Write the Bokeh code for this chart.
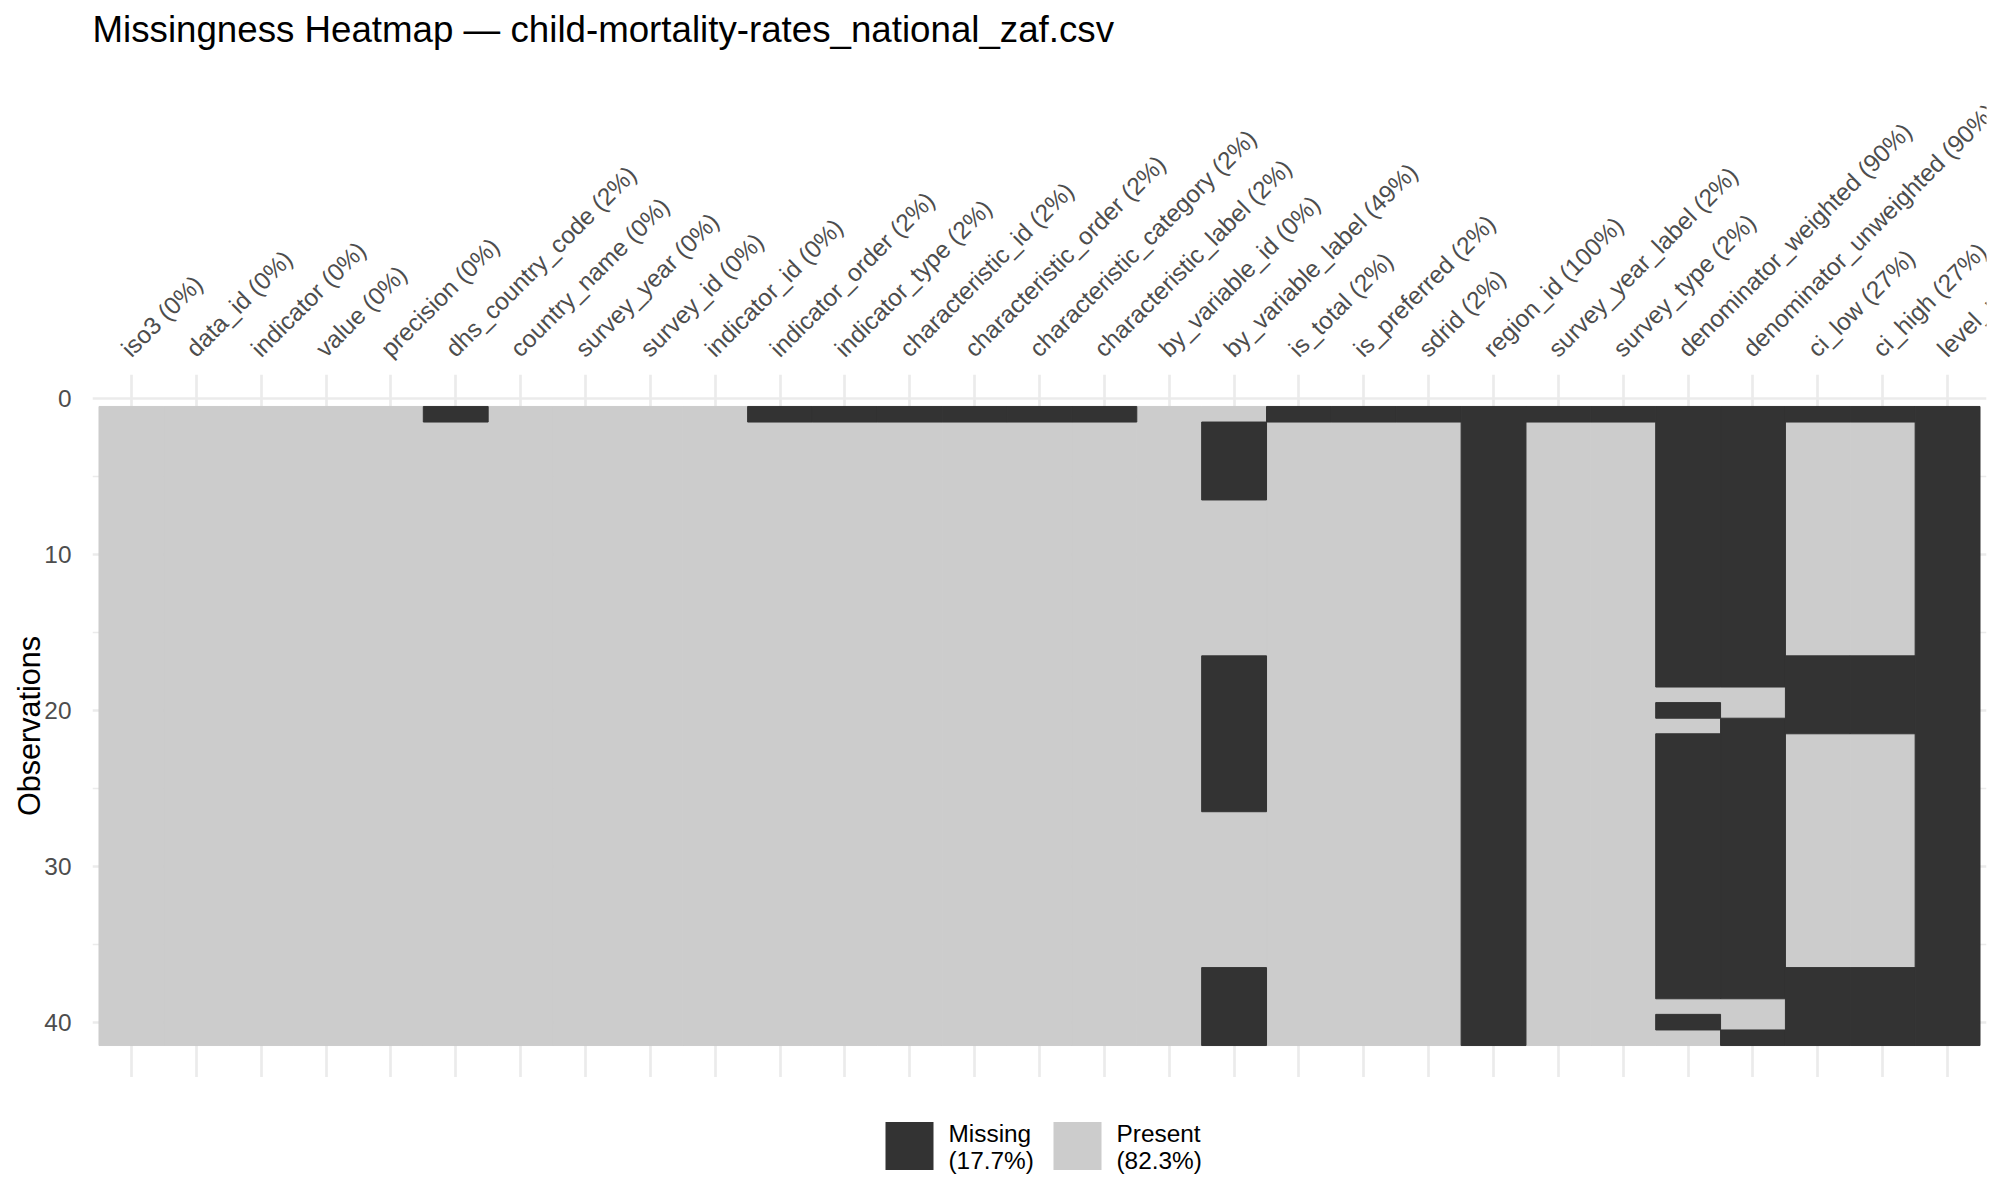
import numpy as np
from bokeh.plotting import figure
from bokeh.models import Range1d, FixedTicker, ColumnDataSource
from bokeh.layouts import column
from bokeh.embed import file_html
from bokeh.resources import INLINE
from bokeh.core.properties import value

TITLE = "Missingness Heatmap \u2014 child-mortality-rates_national_zaf.csv"
n_obs = 41
variables = [
    "iso3", "data_id", "indicator", "value", "precision", "dhs_country_code",
    "country_name", "survey_year", "survey_id", "indicator_id", "indicator_order",
    "indicator_type", "characteristic_id", "characteristic_order",
    "characteristic_category", "characteristic_label", "by_variable_id",
    "by_variable_label", "is_total", "is_preferred", "sdrid", "region_id",
    "survey_year_label", "survey_type", "denominator_weighted",
    "denominator_unweighted", "ci_low", "ci_high", "level_rank",
]
# missing observations per variable as inclusive (first_row, last_row) runs, 1-based
missing_runs = [
    [], [], [], [], [], [(1, 1)],
    [], [], [], [], [(1, 1)],
    [(1, 1)], [(1, 1)], [(1, 1)],
    [(1, 1)], [(1, 1)], [],
    [(2, 6), (17, 26), (37, 41)], [(1, 1)], [(1, 1)], [(1, 1)], [(1, 41)],
    [(1, 1)], [(1, 1)], [(1, 18), (20, 20), (22, 38), (40, 40)],
    [(1, 18), (21, 38), (41, 41)], [(1, 1), (17, 21), (37, 41)], [(1, 1), (17, 21), (37, 41)], [(1, 41)],
]
y_ticks = [0, 10, 20, 30, 40]
y_minor = [5, 15, 25, 35]

DARK = "#333333"
LIGHT = "#CCCCCC"
GRID = "#EBEBEB"
FONT = "Liberation Sans"

nvar = len(variables)
miss = np.zeros((nvar, n_obs), dtype=bool)
for j, runs in enumerate(missing_runs):
    for a, b in runs:
        miss[j, a - 1:b] = True

col_pct = [int(round(100 * miss[j].sum() / n_obs)) for j in range(nvar)]
x_labels = [f"{v} ({pc}%)" for v, pc in zip(variables, col_pct)]
pct_missing = 100 * miss.sum() / miss.size

seg = {True: dict(x=[], y=[], h=[]), False: dict(x=[], y=[], h=[])}
for j in range(nvar):
    start = 0
    for i in range(1, n_obs + 1):
        if i == n_obs or miss[j, i] != miss[j, start]:
            d = seg[bool(miss[j, start])]
            d["x"].append(j + 1)
            d["y"].append((start + 1 + i) / 2)
            d["h"].append(i - start)
            start = i

pad = 0.05 * n_obs
FL, FR = 92, 14          # left / right borders of the panel
TOP_H, MAIN_H, LEG_H = 374, 703, 123
W = 2000

x_range = Range1d(0.4, nvar + 0.6)

# ---- top strip: title and rotated variable labels
top = figure(width=W, height=TOP_H, x_range=x_range, y_range=Range1d(TOP_H, 0),
             x_axis_location=None, y_axis_location=None,
             output_backend="svg", toolbar_location=None,
             min_border_left=FL, min_border_right=FR, min_border_top=0, min_border_bottom=0)
top.outline_line_color = None
top.grid.visible = False
top.text(x=[0.4], y=[29], text=[TITLE], text_font=value(FONT), text_font_size="36.7px",
         text_align="left", text_baseline="middle", text_color="black")
lab_src = ColumnDataSource(dict(x=list(range(1, nvar + 1)), text=x_labels))
top.text(x="x", y=TOP_H - 22, text="text", source=lab_src, angle=np.pi / 4,
         x_offset=-6, text_align="left", text_baseline="middle",
         text_font=value(FONT), text_font_size="24.4px", text_color="#4D4D4D")

# ---- main panel
p = figure(width=W, height=MAIN_H, x_range=x_range,
           y_range=Range1d(n_obs + 0.5 + pad, 0.5 - pad),
           x_axis_location=None, output_backend="svg", toolbar_location=None,
           min_border_left=FL, min_border_right=FR, min_border_top=0, min_border_bottom=0)
p.outline_line_color = None
p.background_fill_color = "white"
p.border_fill_color = "white"

for status, color in ((False, LIGHT), (True, DARK)):
    src = ColumnDataSource(seg[status])
    p.rect(x="x", y="y", width=1, height="h", source=src,
           fill_color=color, line_color=color, line_width=1)

p.xgrid.ticker = FixedTicker(ticks=list(range(1, nvar + 1)))

ya = p.yaxis[0]
ya.ticker = FixedTicker(ticks=y_ticks, minor_ticks=y_minor)
ya.axis_line_color = None
ya.major_tick_line_color = None
ya.minor_tick_line_color = None
ya.major_label_standoff = 15
ya.major_label_text_font = FONT
ya.major_label_text_font_size = "24.4px"
ya.major_label_text_color = "#4D4D4D"
ya.axis_label = "Observations"
ya.axis_label_text_font = FONT
ya.axis_label_text_font_size = "30.6px"
ya.axis_label_text_font_style = "normal"
ya.axis_label_text_color = "black"
ya.axis_label_standoff = -5

p.xgrid.grid_line_color = GRID
p.xgrid.grid_line_width = 2.7
p.ygrid.grid_line_color = GRID
p.ygrid.grid_line_width = 2.7
p.ygrid.minor_grid_line_color = GRID
p.ygrid.minor_grid_line_width = 1.4

# ---- legend strip
lg = figure(width=W, height=LEG_H, x_range=Range1d(FL, W - FR), y_range=Range1d(LEG_H, 0),
            x_axis_location=None, y_axis_location=None,
            output_backend="svg", toolbar_location=None,
            min_border_left=FL, min_border_right=FR, min_border_top=0, min_border_bottom=0)
lg.outline_line_color = None
lg.grid.visible = False
leg_names = ["Missing", "Present"]
leg_pcts = [f"({pct_missing:.1f}%)", f"({100 - pct_missing:.1f}%)"]
leg_colors = [DARK, LIGHT]
key_cx = [909, 1077]
lg.rect(x=key_cx, y=[68.5, 68.5], width=48, height=48, fill_color=leg_colors, line_color=None)
tx = [c + 39 for c in key_cx]
lg.text(x=tx, y=[56, 56], text=leg_names, text_font=value(FONT), text_font_size="24.4px",
        text_baseline="middle", text_align="left", text_color="black")
lg.text(x=tx, y=[83, 83], text=leg_pcts, text_font=value(FONT), text_font_size="24.4px",
        text_baseline="middle", text_align="left", text_color="black")

layout = column(top, p, lg, spacing=0)
open("out.html", "w").write(file_html(layout, INLINE))
